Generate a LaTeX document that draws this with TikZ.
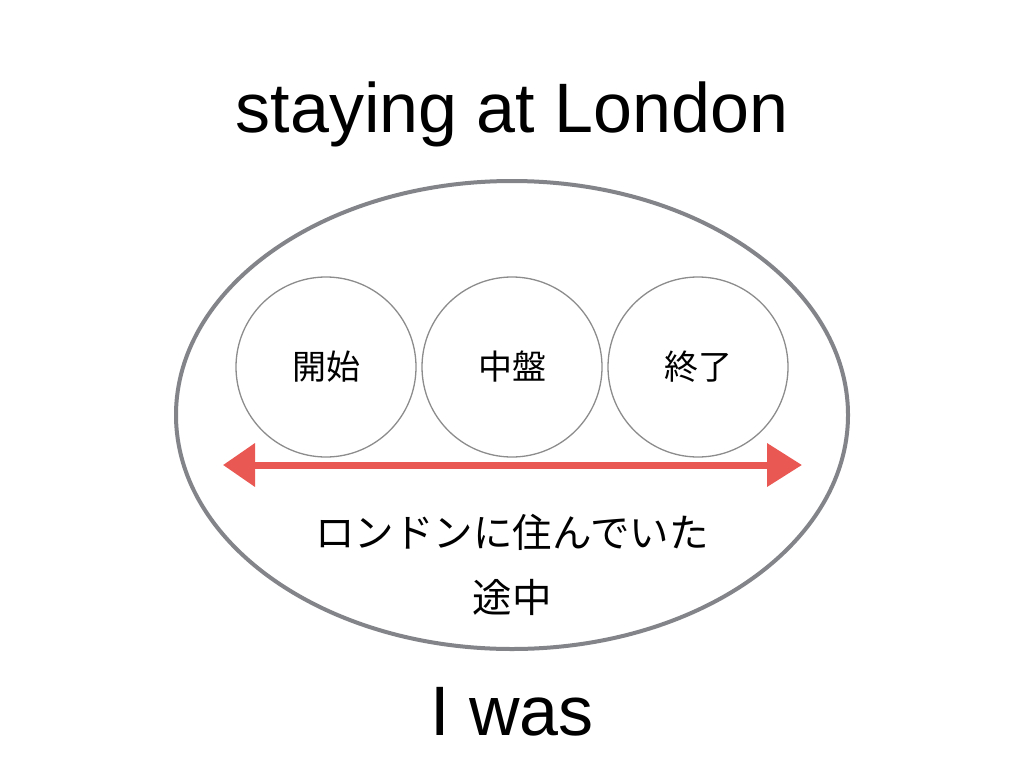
\documentclass[tikz,border=0pt]{standalone}
\usepackage{fontspec}
\setmainfont{Liberation Sans}
\newfontfamily\jpfont{Noto Sans CJK JP}
\usetikzlibrary{arrows.meta,shapes.geometric}
\definecolor{ellgray}{RGB}{130,132,138}
\definecolor{circgray}{RGB}{140,140,140}
\definecolor{arrred}{RGB}{234,88,84}
\begin{document}
\begin{tikzpicture}[x=1pt,y=-1pt,
  phase/.style={circle,draw=circgray,line width=1.3pt,minimum size=180pt,inner sep=0pt,font=\jpfont\fontsize{34}{40}\selectfont},
  title/.style={font=\fontsize{70}{84}\selectfont,inner sep=0pt},
  jptext/.style={font=\jpfont\fontsize{39.5}{65}\selectfont,align=center,inner sep=0pt}]
\useasboundingbox (0,0) rectangle (1024,768);
\fill[white] (0,0) rectangle (1024,768);
\node[title,anchor=base] (top) at (512,132) {staying at London};
\node[draw=ellgray,line width=4pt,ellipse,minimum width=672pt,minimum height=468pt,inner sep=0pt] (ell) at (512,415) {};
\node[phase] (p1) at (326,367) {開始};
\node[phase] (p2) at (512,367) {中盤};
\node[phase] (p3) at (698,367) {終了};
\coordinate (al) at (223,465);
\coordinate (ar) at (802,465);
\draw[arrred,line width=7pt,{Triangle[length=32pt,width=42pt]}-{Triangle[length=35pt,width=42pt]}] (al) -- (ar);
\node[jptext,anchor=center] (mid) at (512,565) {ロンドンに住んでいた\\途中};
\node[title,anchor=base] (bot) at (512,735) {I was};
\end{tikzpicture}
\end{document}
